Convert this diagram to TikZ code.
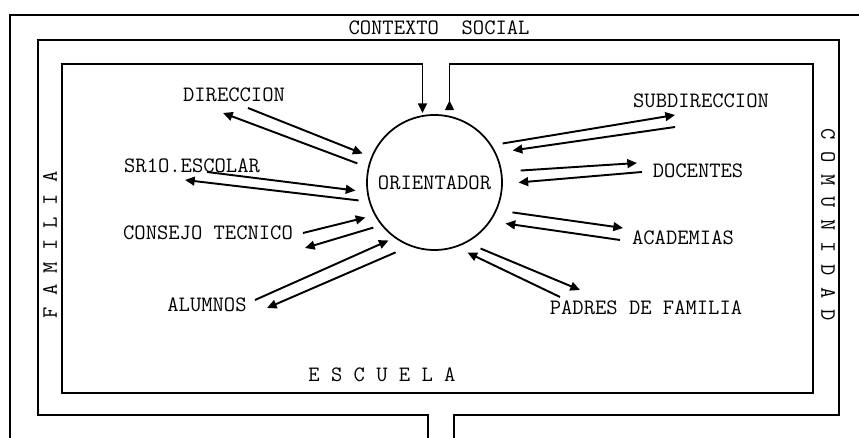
\documentclass[tikz,border=0pt]{standalone}
\usetikzlibrary{calc,arrows.meta}
\tikzset{
  txt/.style={font=\fontsize{12.5}{15}\selectfont\ttfamily, inner sep=0pt},
  tip/.style={line width=1.1pt, -{Triangle[length=5.5pt,width=5pt]}},
  frame/.style={line width=1pt}
}

\begin{document}
\begin{tikzpicture}
		%%%%% START %%%%%
		\useasboundingbox (0,0) rectangle (17.18,8.76);
		
		\draw[frame] (0.20,0) -- (0.20,8.46) -- (17.18,8.46);
		\draw[frame] (8.56,0) -- (8.56,0.46) -- (0.76,0.46) -- (0.76,7.96) -- (16.78,7.96) -- (16.78,0.46) -- (9.08,0.46) -- (9.08,0);
		
		\node[txt, draw, circle, line width=1pt, minimum size=2.7cm] (ori) at (8.69,5.11) {ORIENTADOR};
		
		\draw[frame, {Triangle[reversed,length=5.5pt,width=5pt]}-{Triangle[length=5.5pt,width=5pt]}] ($(ori.north)+(0.30,0.08)$) |- (16.26,7.48) -- (16.26,0.90) -- (1.24,0.90) -- (1.24,7.48) -| ($(ori.north)+(-0.24,0.02)$);
		
		\node[txt] (ctx) at (8.78,8.20) {CONTEXTO~~SOCIAL};
		\node[txt, rotate=90] (fam) at (1.00,3.86) {F A M I L I A};
		\node[txt, rotate=-90] (com) at (16.56,4.26) {C O M U N I D A D};
		\node[txt] (esc) at (7.64,1.26) {E S C U E L A};
		
		\node[txt] (dir) at (4.68,6.86) {DIRECCION};
		\node[txt] (srio) at (3.84,5.44) {SR1O.ESCOLAR};
		\node[txt] (cons) at (4.16,4.10) {CONSEJO TECNICO};
		\node[txt] (alum) at (4.14,2.66) {ALUMNOS};
		\node[txt] (subd) at (14.02,6.74) {SUBDIRECCION};
		\node[txt] (doc) at (13.96,5.34) {DOCENTES};
		\node[txt] (acad) at (13.66,4.00) {ACADEMIAS};
		\node[txt] (pad) at (12.92,2.60) {PADRES DE FAMILIA};
		
		\draw[tip] ($(dir)+(0.28,-0.26)$) -- ($(ori)+(158.1:1.55)$);
		\draw[tip] ($(ori)+(166.1:1.59)$) -- ($(dir)+(-0.22,-0.36)$);
		
		\draw[tip] ($(srio)+(0.30,-0.12)$) -- ($(ori)+(185.8:1.59)$);
		\draw[tip] ($(ori)+(193.3:1.56)$) -- ($(srio)+(-0.14,-0.28)$);
		
		\draw[tip] ($(cons)+(1.90,0)$) -- ($(ori)+(206.9:1.55)$);
		\draw[tip] ($(ori)+(216.4:1.52)$) -- ($(cons)+(1.94,-0.30)$);
		
		\draw[tip] ($(alum)+(0.96,0.10)$) -- ($(ori)+(231.6:1.48)$);
		\draw[tip] ($(ori)+(240.9:1.60)$) -- ($(alum)+(1.20,-0.06)$);
		
		\draw[tip] ($(ori)+(29.8:1.57)$) -- ($(subd)+(-0.52,-0.28)$);
		\draw[tip] ($(subd)+(-0.52,-0.52)$) -- ($(ori)+(22.3:1.69)$);
		
		\draw[tip] ($(ori)+(7.9:1.74)$) -- ($(doc)+(-1.22,0.16)$);
		\draw[tip] ($(doc)+(-1.12,-0.02)$) -- ($(ori)+(0:1.68)$);
		
		\draw[tip] ($(ori)+(-21.0:1.67)$) -- ($(acad)+(-1.20,0.20)$);
		\draw[tip] ($(acad)+(-1.26,-0.04)$) -- ($(ori)+(-30.0:1.64)$);
		
		\draw[tip] ($(ori)+(-55.1:1.61)$) -- ($(pad)+(-1.32,0.36)$);
		\draw[tip] ($(pad)+(-1.72,0.22)$) -- ($(ori)+(-64.8:1.55)$);
		%%%%% END %%%%%
\end{tikzpicture}
\end{document}
